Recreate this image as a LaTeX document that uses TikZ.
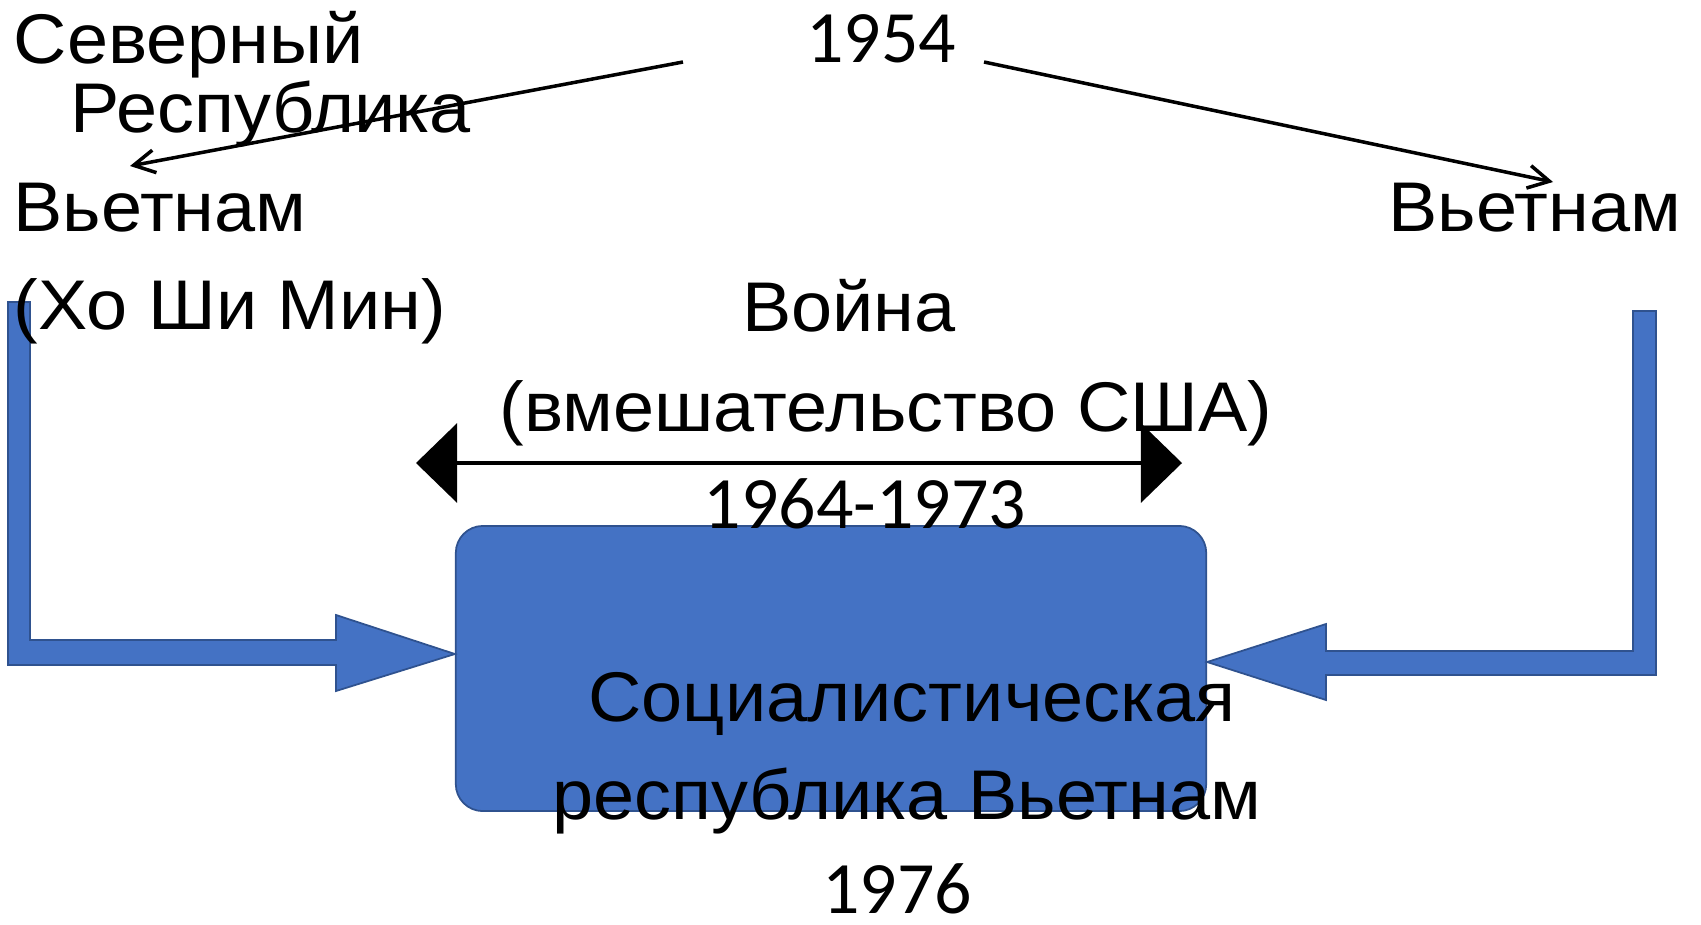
\documentclass[tikz,border=0pt]{standalone}
\usepackage{fontspec}
\setmainfont{Liberation Sans}
\newfontfamily\digitfont{Carlito}
\usetikzlibrary{arrows.meta}
\definecolor{boxblue}{HTML}{4472C4}
\definecolor{boxedge}{HTML}{2F528F}
\tikzset{
  lefttext/.style={font=\fontsize{20}{28}\selectfont, inner sep=0pt, anchor=base west, xscale=1.05, transform shape},
  midtext/.style={font=\fontsize{20}{28}\selectfont, inner sep=0pt, anchor=base, xscale=1.05, transform shape},
  yeartext/.style={font=\digitfont\fontsize{21}{28}\selectfont, inner sep=0pt, anchor=base},
  thinarrow/.style={line width=1pt, -{Straight Barb[length=6pt,width=6.5pt]}},
  wararrow/.style={line width=1pt, {Triangle[length=11.7pt,width=22.5pt]}-{Triangle[length=11.7pt,width=22.5pt]}},
  bluearrow/.style={fill=boxblue, draw=boxedge, line width=0.5pt}
}
\begin{document}
\begin{tikzpicture}[x=0.01cm, y=-0.01cm]
  \useasboundingbox (0,0) rectangle (1701,924);
  % \draw[help lines, step=100] (0,0) grid (1701,924);

  % result box
  \node[bluearrow, rounded corners=0.27cm, minimum width=7.5cm, minimum height=2.85cm] (box) at (831, 668.5) {};

  % left bent arrow (north)
  \draw[bluearrow] (8,302) -- (30,302) -- (30,640) -- (336,640) -- (336,615) -- (box.west |- 0,654) -- (336,691) -- (336,665) -- (8,665) -- cycle;
  % right bent arrow (south)
  \draw[bluearrow] (1633,311) -- (1656,311) -- (1656,675) -- (1326,675) -- (1326,700) -- (box.east |- 0,662) -- (1326,624) -- (1326,651) -- (1633,651) -- cycle;

  % north
  \node[lefttext] (north1) at (13,63) {Северный};
  \node[lefttext] (north2) at (70,132) {Республика};
  \node[lefttext] (north3) at (13,231) {Вьетнам};
  \node[lefttext] (north4) at (13,329) {(Хо Ши Мин)};
  % south
  \node[yeartext] (year54) at (881,62) {1954};
  \node[midtext] (south) at (1535,231) {Вьетнам};
  % war
  \node[midtext] (war1) at (849,331) {Война};
  \node[midtext] (war2) at (886,431) {(вмешательство США)};
  \node[yeartext] (war3) at (865,528) {1964-1973};
  % unified
  \node[midtext] (srv1) at (912,721) {Социалистическая};
  \node[midtext] (srv2) at (907,819) {республика Вьетнам};
  \node[yeartext] (year76) at (897,913) {1976};

  \coordinate (splitL) at (683,62);
  \coordinate (splitR) at (984,62);
  \coordinate (northend) at (130,166);
  \coordinate (southend) at (1553,182);
  \draw[thinarrow] (splitL) -- (northend);
  \draw[thinarrow] (splitR) -- (southend);

  \coordinate (warL) at (416,463);
  \coordinate (warR) at (1182,463);
  \draw[wararrow] (warL) -- (warR);
\end{tikzpicture}
\end{document}
